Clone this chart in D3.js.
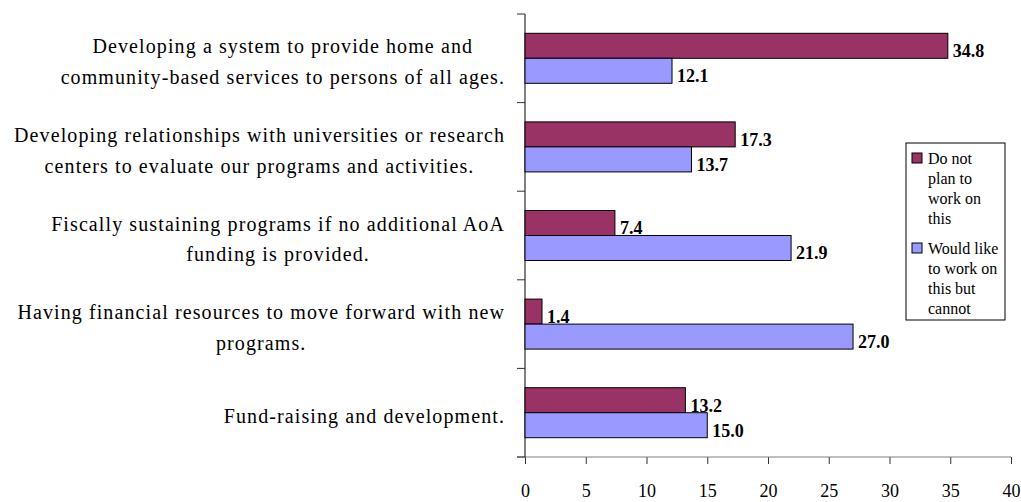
<!DOCTYPE html>
<html>
<head>
<meta charset="utf-8">
<script src="https://cdnjs.cloudflare.com/ajax/libs/d3/7.8.5/d3.min.js"></script>
<style>
  body { margin: 0; background: #fff; }
  text { font-family: "Liberation Serif", "DejaVu Serif", serif; fill: #000; }
</style>
</head>
<body>
<script>
// chart values
const categories = [
  ["Developing a system to provide home and", "community-based services to persons of all ages."],
  ["Developing relationships with universities or research", "centers to evaluate our programs and activities."],
  ["Fiscally sustaining programs if no additional AoA", "funding is provided."],
  ["Having financial resources to move forward with new", "programs."],
  ["Fund-raising and development."]
];
const seriesNames = ["Do not plan to work on this", "Would like to work on this but cannot"];
const doNotPlan = [34.8, 17.3, 7.4, 1.4, 13.2];
const wouldLike = [12.1, 13.7, 21.9, 27.0, 15.0];
const xTicks = [0, 5, 10, 15, 20, 25, 30, 35, 40];
const legendLines = [["Do not", "plan to", "work on", "this"], ["Would like", "to work on", "this but", "cannot"]];
const colors = ["#993366", "#9999ff"];

const w = 1021, h = 502;
const plotLeft = 525, plotRight = 1011, plotTop = 14, plotBottom = 457;

const svg = d3.select("body").append("svg")
    .attr("width", w)
    .attr("height", h);

const keys = categories.map((c, i) => "c" + i);
const xScale = d3.scaleLinear().domain([0, 40]).range([plotLeft, plotRight]);
const yScale = d3.scaleBand().domain(keys).range([plotTop, plotBottom]);
const barPad = (yScale.bandwidth() - 50) / 2;
const ySub = d3.scaleBand().domain(seriesNames).range([barPad, yScale.bandwidth() - barPad]);

// x axis
const xAxis = svg.append("g")
    .attr("transform", `translate(0,${plotBottom})`)
    .call(d3.axisBottom(xScale).tickValues(xTicks).tickSize(7).tickPadding(20).tickSizeOuter(0));
xAxis.select(".domain").remove();
xAxis.selectAll(".tick line").attr("stroke", "#333");
xAxis.selectAll(".tick text")
    .style("font-family", '"Liberation Serif", serif')
    .style("font-size", "18px");
svg.append("line")
    .attr("x1", plotLeft - 8).attr("x2", plotRight)
    .attr("y1", plotBottom).attr("y2", plotBottom)
    .attr("stroke", "#808080");

// y axis with ticks between categories
const bounds = keys.map(k => yScale(k)).concat([plotBottom]);
svg.append("line")
    .attr("x1", plotLeft).attr("x2", plotLeft)
    .attr("y1", plotTop).attr("y2", plotBottom)
    .attr("stroke", "#000");
svg.selectAll(".ytick")
    .data(bounds)
    .enter()
    .append("line")
    .attr("class", "ytick")
    .attr("x1", plotLeft - 8).attr("x2", plotLeft)
    .attr("y1", d => d).attr("y2", d => d)
    .attr("stroke", "#333");

// bars
const rows = categories.map((c, i) => ({ key: keys[i], label: c, vals: [doNotPlan[i], wouldLike[i]] }));

const groups = svg.selectAll(".row")
    .data(rows)
    .enter()
    .append("g")
    .attr("class", "row")
    .attr("transform", d => `translate(0,${yScale(d.key)})`);

groups.selectAll("rect")
    .data(d => d.vals.map((v, j) => ({ v: v, s: seriesNames[j], j: j })))
    .enter()
    .append("rect")
    .attr("x", xScale(0))
    .attr("y", d => ySub(d.s))
    .attr("width", d => xScale(d.v) - xScale(0))
    .attr("height", ySub.bandwidth())
    .attr("fill", d => colors[d.j])
    .attr("stroke", "#000")
    .attr("stroke-width", 1);

groups.selectAll(".val")
    .data(d => d.vals.map((v, j) => ({ v: v, s: seriesNames[j] })))
    .enter()
    .append("text")
    .attr("class", "val")
    .attr("x", d => xScale(d.v) + 5)
    .attr("y", d => ySub(d.s) + ySub.bandwidth() - 1)
    .style("font-size", "18px")
    .style("font-weight", "bold")
    .text(d => d.v.toFixed(1));

// category labels: right aligned block, lines centered
const labelRight = 505;
groups.each(function(d) {
  const g = d3.select(this);
  const mid = yScale.bandwidth() / 2 + 4;
  const n = d.label.length;
  const t = g.selectAll(".cat")
      .data(d.label)
      .enter()
      .append("text")
      .attr("class", "cat")
      .attr("y", (l, i) => mid + (i - (n - 1) / 2) * 30.5)
      .attr("dy", "0.32em")
      .style("font-size", "20px")
      .style("letter-spacing", "1.1px")
      .text(l => l);
  const widths = [];
  t.each(function() { widths.push(this.getComputedTextLength()); });
  const maxW = d3.max(widths);
  t.attr("x", (l, i) => labelRight - maxW / 2 - widths[i] / 2);
});

// legend
const legend = svg.append("g").attr("transform", "translate(906,143)");
legend.append("rect")
    .attr("width", 99).attr("height", 177)
    .attr("fill", "#fff")
    .attr("stroke", "#000");
const items = legend.selectAll(".item")
    .data(legendLines)
    .enter()
    .append("g")
    .attr("class", "item")
    .attr("transform", (d, i) => `translate(0,${i * 90})`);
items.append("rect")
    .attr("x", 6).attr("y", 10)
    .attr("width", 10).attr("height", 10)
    .attr("fill", (d, i) => colors[i])
    .attr("stroke", "#000");
items.selectAll("text")
    .data(d => d)
    .enter()
    .append("text")
    .attr("x", 22)
    .attr("y", (l, i) => 21 + i * 20)
    .style("font-size", "16px")
    .text(l => l);
</script>
</body>
</html>
